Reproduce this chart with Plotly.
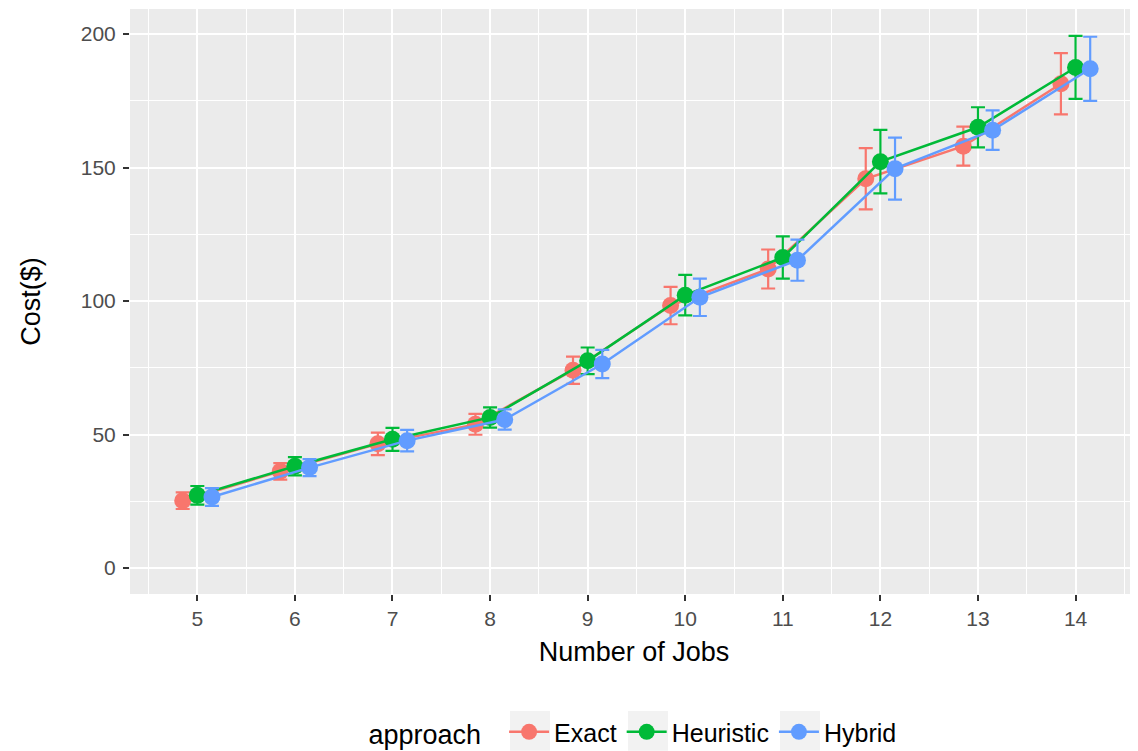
import plotly.graph_objects as go

jobs = [5, 6, 7, 8, 9, 10, 11, 12, 13, 14]
approaches = ["Exact", "Heuristic", "Hybrid"]
colors = ["#F8766D", "#00BA38", "#619CFF"]
dodge = [-0.15, 0.0, 0.15]

exact_mean = [25.2, 36.2, 46.5, 53.8, 74.1, 98.3, 112.0, 145.8, 158.0, 181.4]
exact_err = [3.1, 3.1, 4.2, 3.9, 5.1, 7.0, 7.3, 11.5, 7.3, 11.5]
heur_mean = [27.2, 38.1, 48.2, 56.4, 77.6, 102.2, 116.3, 152.2, 165.1, 187.5]
heur_err = [3.5, 3.4, 4.3, 3.8, 5.0, 7.6, 7.9, 11.9, 7.5, 11.8]
hyb_mean = [26.6, 37.6, 47.7, 55.6, 76.4, 101.4, 115.3, 149.6, 164.0, 187.0]
hyb_err = [3.3, 3.2, 4.0, 3.8, 5.3, 7.0, 7.7, 11.6, 7.4, 12.0]

means = [exact_mean, heur_mean, hyb_mean]
errs = [exact_err, heur_err, hyb_err]

FONT = "Liberation Sans, Arial, sans-serif"

fig = go.Figure()
for name, col, d, m, e in zip(approaches, colors, dodge, means, errs):
    fig.add_trace(go.Scatter(
        x=[j + d for j in jobs], y=m, name=name, mode="lines+markers",
        line=dict(color=col, width=2.5),
        marker=dict(color=col, size=17),
        error_y=dict(type="data", array=e, visible=True, color=col, thickness=2.2, width=7),
    ))

# grey legend-key backgrounds (ggplot style), in paper coordinates
key_boxes = [(0.3770, 0.4167), (0.4940, 0.5337), (0.6448, 0.6845)]
for x0, x1 in key_boxes:
    fig.add_shape(type="rect", xref="paper", yref="paper", x0=x0, x1=x1,
                  y0=-0.268, y1=-0.200, fillcolor="#F2F2F2", line=dict(width=0),
                  layer="above")

grid_major = dict(showgrid=True, gridcolor="white", gridwidth=2)
fig.update_layout(
    width=1130, height=743,
    margin=dict(l=122, r=0, t=1, b=157, autoexpand=False),
    paper_bgcolor="white", plot_bgcolor="#EBEBEB",
    font=dict(family=FONT, color="#000000"),
    showlegend=True,
    legend=dict(orientation="h", x=0.5, xanchor="center", y=-0.236, yanchor="middle",
                bgcolor="rgba(0,0,0,0)",
                title=dict(text="approach  ", font=dict(size=27, color="black"), side="left"),
                font=dict(size=25, color="black"), itemwidth=40, traceorder="normal"),
    xaxis=dict(range=[4.31, 14.64], tickmode="array", tickvals=jobs,
               ticktext=[str(j) for j in jobs], **grid_major, automargin=False,
               minor=dict(showgrid=True, gridcolor="white", gridwidth=1, dtick=1, tick0=4.5),
               ticks="outside", ticklen=6, tickwidth=2, tickcolor="#333333",
               tickfont=dict(size=21, color="#4D4D4D"), zeroline=False,
               title=dict(text="Number of Jobs", font=dict(size=27, color="black"), standoff=12)),
    yaxis=dict(range=[-9.75, 209.4], tickmode="array", tickvals=[0, 50, 100, 150, 200],
               **grid_major, automargin=False, ticklabelstandoff=3,
               minor=dict(showgrid=True, gridcolor="white", gridwidth=1, dtick=50, tick0=25),
               ticks="outside", ticklen=6, tickwidth=2, tickcolor="#333333",
               tickfont=dict(size=21, color="#4D4D4D"), zeroline=False,
               title=dict(text="Cost($)", font=dict(size=27, color="black"), standoff=32)),
)

fig.write_html("out.html")
